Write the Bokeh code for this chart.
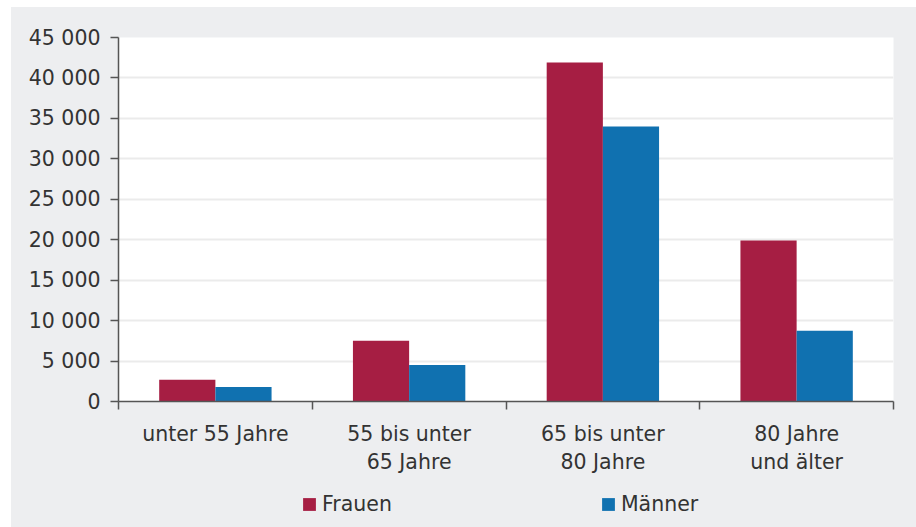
from bokeh.plotting import figure
from bokeh.layouts import column
from bokeh.models import (Range1d, FixedTicker, LinearAxis, Legend, LegendItem,
                          ColumnDataSource)
from bokeh.embed import file_html
from bokeh.resources import INLINE

# ---- data ----
categories = ["unter 55 Jahre", "55 bis unter\n65 Jahre", "65 bis unter\n80 Jahre", "80 Jahre\nund älter"]
frauen = [2700, 7500, 41900, 19900]
maenner = [1800, 4500, 34000, 8750]
series_names = ["Frauen", "Männer"]
y_ticks = [0, 5000, 10000, 15000, 20000, 25000, 30000, 35000, 40000, 45000]
y_tick_labels = ["0", "5 000", "10 000", "15 000", "20 000", "25 000", "30 000", "35 000", "40 000", "45 000"]

FONT = "DejaVu Sans"
FS = "20.5px"
TXT = "#333333"
AX = "#555555"
BG = "#EDEEF0"
C_F = "#A61E43"
C_M = "#1071B0"

n = len(categories)
bar_w = 0.29
idx = list(range(n))
src = ColumnDataSource(dict(
    xf=[i + 0.5 - bar_w / 2 for i in idx],
    xm=[i + 0.5 + bar_w / 2 for i in idx],
    f=frauen, m=maenner))

p = figure(width=905, height=478, x_range=Range1d(0, n), y_range=Range1d(0, 45000),
           output_backend="svg", toolbar_location=None,
           min_border_left=107, min_border_right=23, min_border_top=30, min_border_bottom=84)
p.background_fill_color = "white"
p.border_fill_color = BG
p.outline_line_color = None

rf = p.vbar(x="xf", top="f", width=bar_w, source=src, fill_color=C_F, line_color=None)
rm = p.vbar(x="xm", top="m", width=bar_w, source=src, fill_color=C_M, line_color=None)

# y axis
ya = p.yaxis[0]
ya.ticker = FixedTicker(ticks=y_ticks)
ya.major_label_overrides = {t: l for t, l in zip(y_ticks, y_tick_labels)}
ya.major_label_text_font = FONT
ya.major_label_text_font_size = FS
ya.major_label_text_color = TXT
ya.major_tick_in = 0
ya.major_tick_out = 8
ya.minor_tick_line_color = None
ya.axis_line_color = AX
ya.axis_line_width = 1.5
ya.major_tick_line_color = AX
ya.major_tick_line_width = 1.5
ya.major_label_standoff = 10

p.xgrid.grid_line_color = None
p.ygrid.grid_line_color = "#EBEBEB"
p.ygrid.grid_line_width = 2

# x axis with boundary ticks
xa = p.xaxis[0]
xa.ticker = FixedTicker(ticks=list(range(n + 1)))
xa.major_label_overrides = {i: "" for i in range(n + 1)}
xa.major_label_text_font_size = "1px"
xa.major_label_standoff = 0
xa.major_tick_in = 0
xa.major_tick_out = 8
xa.minor_tick_line_color = None
xa.axis_line_color = AX
xa.axis_line_width = 1.5
xa.major_tick_line_color = AX
xa.major_tick_line_width = 1.5

# category labels axis
centers = [i + 0.5 for i in idx]
xa2 = LinearAxis(ticker=FixedTicker(ticks=centers),
                 major_label_overrides={c: lab for c, lab in zip(centers, categories)})
xa2.axis_line_color = None
xa2.major_tick_line_color = None
xa2.minor_tick_line_color = None
xa2.major_tick_out = 0
xa2.major_tick_in = 0
xa2.major_label_standoff = 12
xa2.major_label_text_font = FONT
xa2.major_label_text_font_size = FS
xa2.major_label_text_color = TXT
xa2.major_label_text_line_height = 1.2
p.add_layout(xa2, "below")

# legend strip
lf = figure(width=905, height=42, x_range=Range1d(0, 1), y_range=Range1d(0, 1),
            output_backend="svg", toolbar_location=None,
            x_axis_type=None, y_axis_type=None, min_border=0)
lf.background_fill_color = BG
lf.border_fill_color = BG
lf.outline_line_color = None
lf.xgrid.grid_line_color = None
lf.ygrid.grid_line_color = None
dummy = ColumnDataSource(dict(x=[-10], top=[0]))
lr_f = lf.vbar(x="x", top="top", width=0.1, source=dummy, fill_color=C_F, line_color=None)
lr_m = lf.vbar(x="x", top="top", width=0.1, source=dummy, fill_color=C_M, line_color=None)

legend = Legend(items=[LegendItem(label=series_names[0], renderers=[lr_f]),
                       LegendItem(label=series_names[1], renderers=[lr_m])],
                orientation="horizontal", location=(183, 11))
legend.background_fill_alpha = 0
legend.border_line_color = None
legend.label_text_font = FONT
legend.label_text_font_size = FS
legend.label_text_color = TXT
legend.glyph_width = 16
legend.glyph_height = 16
legend.label_standoff = 5
legend.spacing = 208
legend.margin = 0
legend.padding = 4
lf.add_layout(legend, "center")

layout = column(p, lf, spacing=0, margin=(7, 0, 0, 11), styles={"background-color": BG})
open("out.html", "w").write(file_html(layout, INLINE))
